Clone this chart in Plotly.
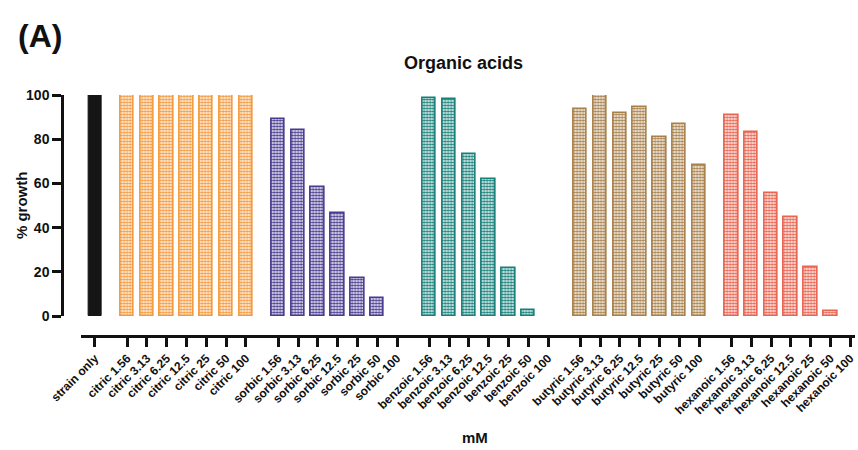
import plotly.graph_objects as go

concentrations = ["1.56", "3.13", "6.25", "12.5", "25", "50", "100"]
acids = ["citric", "sorbic", "benzoic", "butyric", "hexanoic"]
strain_only = [100]
citric = [100, 100, 100, 100, 100, 100, 100]
sorbic = [89.0, 84.0, 58.4, 46.4, 17.1, 8.0, 0]
benzoic = [98.8, 98.4, 73.4, 62.2, 21.6, 2.6, 0]
butyric = [93.5, 100, 91.8, 94.4, 80.9, 87.0, 68.2]
hexanoic = [90.8, 83.4, 55.5, 44.9, 22.1, 2.1, 0]
colors = {"citric": "#F39A3E", "sorbic": "#4A3B8F", "benzoic": "#18807A",
          "butyric": "#A8804A", "hexanoic": "#EA6450"}
series = {"citric": citric, "sorbic": sorbic, "benzoic": benzoic,
          "butyric": butyric, "hexanoic": hexanoic}

GAP = 1.63
fig = go.Figure()
tickvals = [0]
ticktext = ["strain only"]
fig.add_trace(go.Bar(x=[0], y=strain_only, width=0.66,
                     marker=dict(color="#151515", line=dict(color="#151515", width=1)),
                     showlegend=False))
start = GAP
for acid in acids:
    xs = [start + i for i in range(len(concentrations))]
    col = colors[acid]
    vals = series[acid]
    fig.add_trace(go.Bar(
        x=xs, y=vals, width=0.68,
        marker=dict(color="white",
                    line=dict(color=col, width=[1.6 if v > 0 else 0 for v in vals]),
                    pattern=dict(shape=".", fgcolor=col, bgcolor="white",
                                 size=3, solidity=0.6, fillmode="replace")),
        showlegend=False))
    tickvals += xs
    ticktext += [f"{acid} {c}" for c in concentrations]
    start = xs[-1] + GAP

font = "Arial, Liberation Sans, sans-serif"
pw, ph = 858 - 62 - 1, 450 - 95 - 114


def px(x):
    return (x - 62) / pw


def py(y):
    return (450 - 114 - y) / ph


fig.update_layout(
    width=858, height=450,
    margin=dict(l=62, r=1, t=95, b=114),
    paper_bgcolor="white", plot_bgcolor="white",
    font=dict(family=font, color="#111"),
    bargap=0,
    xaxis=dict(range=[-0.72, 38.39], domain=[0.0235, 1], anchor="free", position=0,
               tickvals=tickvals, ticktext=ticktext, tickangle=-45,
               ticklabeloverflow="allow",
               showline=True, linecolor="#111", linewidth=2.5,
               ticks="outside", ticklen=9, tickwidth=2.5, tickcolor="#111",
               tickfont=dict(size=12, family=font, weight="bold"),
               showgrid=False, zeroline=False),
    yaxis=dict(range=[0, 100], domain=[0.083, 1], anchor="free", position=0,
               tickvals=[0, 20, 40, 60, 80, 100],
               showline=True, linecolor="#111", linewidth=2.5,
               ticks="outside", ticklen=9, tickwidth=2.5, tickcolor="#111",
               tickfont=dict(size=14, family=font, weight="bold"),
               showgrid=False, zeroline=False),
    annotations=[
        dict(text="<b>(A)</b>", x=px(40), y=py(36), xref="paper", yref="paper",
             xanchor="center", yanchor="middle", showarrow=False, font=dict(size=32)),
        dict(text="<b>Organic acids</b>", x=px(465), y=py(63), xref="paper", yref="paper",
             xanchor="center", yanchor="middle", showarrow=False, font=dict(size=18)),
        dict(text="<b>% growth</b>", x=px(21), y=py(205), xref="paper", yref="paper",
             xanchor="center", yanchor="middle", showarrow=False, textangle=-90,
             font=dict(size=15)),
        dict(text="<b>mM</b>", x=px(476), y=py(437), xref="paper", yref="paper",
             xanchor="center", yanchor="middle", showarrow=False, font=dict(size=15)),
    ],
)
fig.write_html("out.html")
